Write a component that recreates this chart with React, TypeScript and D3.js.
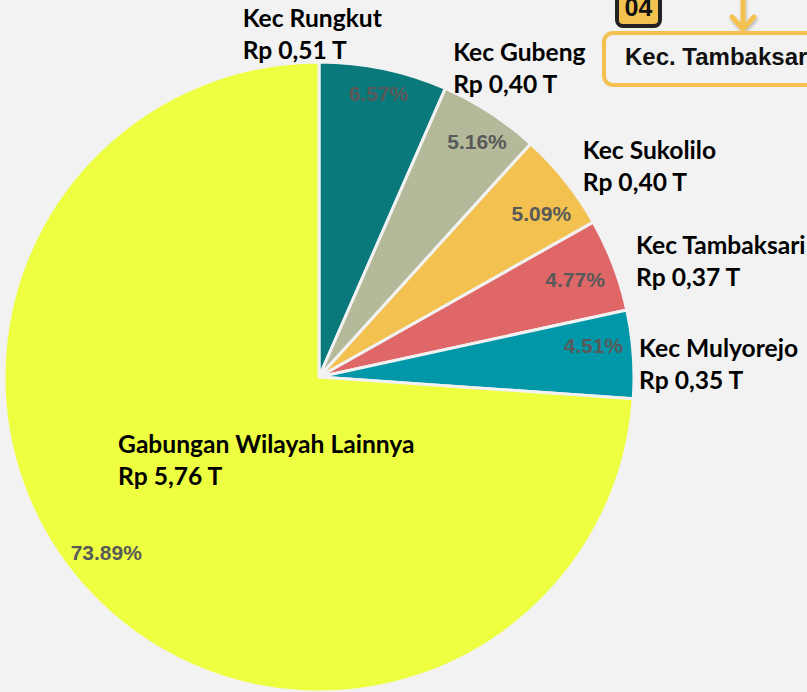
import React from "react";
import * as d3 from "d3";

const categories = ["Kec Rungkut", "Kec Gubeng", "Kec Sukolilo", "Kec Tambaksari", "Kec Mulyorejo", "Gabungan Wilayah Lainnya"];
const shares = [6.57, 5.16, 5.09, 4.77, 4.51, 73.89];
const amounts = ["Rp 0,51 T", "Rp 0,40 T", "Rp 0,40 T", "Rp 0,37 T", "Rp 0,35 T", "Rp 5,76 T"];
const sliceColors = ["#0a797c", "#b4b99a", "#f2c150", "#e06767", "#0097a8", "#edff40"];
const badgeText = "04";
const boxTitle = "Kec. Tambaksari";

// layout (style) settings
const W = 807;
const H = 692;
const CX = 319;
const CY = 377;
const R = 315;
const pctRadius = [290, 284, 276, 274, 276, 276];
const pctDy = [0, 0, 0, 0, -1, 0];
const pctDa = [0, 0.015, 0.04, 0, -0.04, 0.06];
// category label offsets from slice outer point (at radius R + 20)
const labelOffsets = [
  [-145, -22],
  [-48, -35],
  [2, -9],
  [4, -4],
  [-14, 4],
  [44, -153],
];
const labelLine = 32;

export default function App() {
  const data = shares.map((v, i) => ({ name: categories[i], value: v, amount: amounts[i], color: sliceColors[i] }));
  const pie = d3.pie<any>().sort(null).value((d: any) => d.value).startAngle(0).endAngle(2 * Math.PI);
  const arcs = pie(data);
  const arc = d3.arc<any>().innerRadius(0).outerRadius(R);

  const labelFont = "Lato, 'Open Sans', sans-serif";
  const pctFont = "'Liberation Sans', Arial, sans-serif";

  return (
    <svg width={W} height={H} style={{ position: "fixed", left: 0, top: 0, display: "block" }}>
      <defs>
        <filter id="shadow" x="-50%" y="-50%" width="200%" height="200%">
          <feDropShadow dx="1" dy="2" stdDeviation="1.5" floodColor="#000" floodOpacity="0.25" />
        </filter>
      </defs>
      <rect x={0} y={0} width={W} height={H} fill="#f2f2f2" />
      <g transform={`translate(${CX},${CY})`}>
        {arcs.map((a, i) => (
          <path key={i} d={arc(a) as string} fill={a.data.color} stroke="#f2f2f2" strokeWidth={3} strokeLinejoin="round" />
        ))}
        {arcs.map((a, i) => {
          const mid = (a.startAngle + a.endAngle) / 2 + pctDa[i];
          const r = pctRadius[i];
          const x = Math.sin(mid) * r;
          const y = -Math.cos(mid) * r;
          return (
            <text key={"p" + i} x={x} y={y + pctDy[i]} textAnchor="middle" dominantBaseline="central"
              fontFamily={pctFont} fontWeight="bold" fontSize={21} fill="#595959">
              {a.data.value.toFixed(2)}%
            </text>
          );
        })}
        {arcs.map((a, i) => {
          const mid = (a.startAngle + a.endAngle) / 2;
          const r = R + 20;
          const x = Math.sin(mid) * r + labelOffsets[i][0];
          const y = -Math.cos(mid) * r + labelOffsets[i][1];
          return (
            <text key={"l" + i} x={x} y={y} fontFamily={labelFont} fontWeight="bold" fontSize={24.6} fill="#000">
              <tspan x={x} y={y}>{a.data.name}</tspan>
              <tspan x={x} y={y + labelLine}>{a.data.amount}</tspan>
            </text>
          );
        })}
      </g>
      {/* badge */}
      <rect x={617} y={-8} width={43} height={34} rx={6} fill="#f2c150" stroke="#222" strokeWidth={4} />
      <text x={638.5} y={16} textAnchor="middle" fontFamily={pctFont} fontWeight="bold" fontSize={25} fill="#111">{badgeText}</text>
      {/* arrow */}
      <g filter="url(#shadow)" stroke="#f2c150" strokeWidth={5} fill="none" strokeLinecap="round" strokeLinejoin="round">
        <path d="M743,-2 L743,28" />
        <path d="M732,17 L743,29 L754,17" />
      </g>
      {/* title box */}
      <rect x={604} y={33} width={230} height={52} rx={9} fill="#f2f2f2" stroke="#f2c150" strokeWidth={4} />
      <text x={625} y={65} fontFamily={pctFont} fontWeight="bold" fontSize={24} fill="#111">{boxTitle}</text>
    </svg>
  );
}
